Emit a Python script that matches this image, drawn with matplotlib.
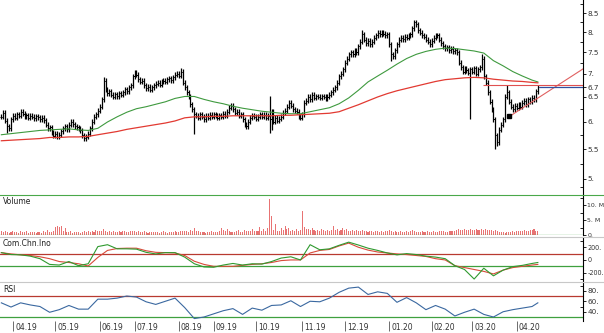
import numpy as np
import matplotlib.pyplot as plt
from matplotlib.lines import Line2D
from matplotlib.ticker import FixedLocator, FixedFormatter, NullFormatter

# daily closes (bars), Mar 2019 - Apr 2020
close = [
    6.10, 6.18, 6.02, 5.92, 5.88, 6.05, 6.12, 6.08, 6.15, 6.12,
    6.20, 6.16, 6.10, 6.13, 6.08, 6.12, 6.10, 6.07, 6.11, 6.09, 6.05, 6.08, 6.03,
    5.95, 5.88, 5.90,
    5.80, 5.74, 5.78, 5.72, 5.76, 5.82,
    5.88, 5.92, 5.86, 5.95, 6.00,
    5.96, 5.92, 5.90, 5.87, 5.84,
    5.75, 5.70, 5.72, 5.78,
    5.88, 6.00, 6.10, 6.15,
    6.22, 6.30, 6.45, 6.85,
    6.65, 6.58, 6.62, 6.55,
    6.50, 6.56, 6.52, 6.58, 6.55,
    6.60, 6.66, 6.62, 6.70, 6.75,
    6.95, 7.02, 6.98, 6.88, 6.82, 6.85,
    6.75, 6.68, 6.72, 6.65, 6.70, 6.75,
    6.78, 6.80, 6.76, 6.82,
    6.85, 6.82, 6.88, 6.90, 6.86, 6.92,
    6.98, 7.00, 6.96, 7.05,
    6.80, 6.70, 6.60, 6.50, 6.35, 6.25, 6.15, 6.12,
    6.08, 6.15, 6.10, 6.05, 6.12, 6.08, 6.14,
    6.10, 6.15, 6.12, 6.08, 6.13, 6.10, 6.16, 6.12, 6.20,
    6.28, 6.32, 6.25,
    6.18, 6.20, 6.12, 6.15, 6.05, 5.95, 5.92, 6.00,
    6.08, 6.12, 6.10, 6.06, 6.10,
    6.15, 6.10, 6.14, 6.08, 6.12, 6.05, 6.20,
    6.00, 6.08, 6.02, 6.06, 6.10,
    6.18, 6.22, 6.30, 6.38, 6.32,
    6.25, 6.22, 6.20, 6.10, 6.08, 6.15,
    6.38, 6.42, 6.50, 6.45, 6.55, 6.48, 6.52, 6.50,
    6.48, 6.52, 6.50, 6.46, 6.50, 6.55,
    6.60, 6.65, 6.70, 6.80, 6.95, 7.00, 7.10,
    7.25, 7.35, 7.45, 7.50, 7.45, 7.55, 7.50,
    7.65, 7.75, 7.95, 7.80, 7.72, 7.78, 7.70, 7.75,
    7.85, 7.92, 7.98, 7.95, 8.00, 7.96, 7.92, 7.95,
    7.70, 7.45, 7.40, 7.55, 7.70,
    7.80, 7.85, 7.82, 7.88, 7.85, 7.90, 7.95,
    8.10, 8.25, 8.20, 8.05,
    7.98, 7.92, 7.88, 7.80, 7.75, 7.70, 7.78,
    7.85, 7.90, 7.92, 7.80, 7.72, 7.65, 7.60, 7.62,
    7.55, 7.58, 7.52, 7.55, 7.50, 7.25, 7.15,
    7.05, 7.12, 7.08, 7.02, 7.10, 7.05, 7.12, 7.00, 7.10, 7.15,
    7.35, 6.95, 6.80, 6.60, 6.40, 6.25, 6.05,
    5.75, 5.62, 5.85, 5.95, 6.05,
    6.50, 6.60, 6.40, 6.30,
    6.25, 6.32, 6.28, 6.35, 6.30,
    6.38, 6.42, 6.35, 6.45, 6.40, 6.48, 6.45, 6.62, 6.70,
]
# long wicks
high_spikes = {53: 6.92, 69: 7.08, 93: 7.12, 139: 6.52, 187: 8.05, 214: 8.32, 249: 7.45, 262: 6.75}
low_spikes = {3: 5.80, 100: 5.77, 139: 5.80, 140: 5.85, 202: 7.30, 243: 6.05, 256: 5.50, 257: 5.55}

# volume in millions
volume = [
    1.2, 0.9, 1.5, 1.1, 0.8, 1.0, 1.3, 0.9, 1.1, 0.8,
    1.4, 1.0, 0.9, 1.2, 0.8, 1.0, 0.9, 1.1, 0.7, 0.9,
    1.0, 0.8, 1.2, 1.1, 1.6, 0.9, 1.0, 1.3, 2.8, 3.1,
    2.6, 3.0, 1.2, 2.5, 1.1, 0.9, 1.2, 0.8, 1.0, 0.9,
    1.1, 0.8, 1.0, 1.3, 0.9, 1.2, 1.0, 1.4, 1.1, 1.6,
    1.2, 1.5, 1.3, 2.0, 1.4, 1.1, 1.3, 1.0, 1.2, 0.9,
    1.1, 1.3, 1.0, 1.4, 1.2, 0.9, 1.1, 1.3, 1.5, 1.2,
    1.0, 1.4, 1.1, 0.9, 1.2, 1.0, 0.8, 1.1, 0.9, 1.0,
    0.9, 1.1, 0.8, 1.0, 1.2, 0.9, 0.8, 1.1, 1.0, 0.9,
    1.2, 1.0, 1.1, 1.5, 1.3, 1.4, 1.2, 1.1, 1.6, 1.3,
    2.2, 1.5, 1.2, 1.0, 0.9, 1.1, 0.8, 1.0, 0.9, 1.2,
    1.0, 0.9, 1.1, 1.4, 2.4, 1.8, 1.2, 2.0, 1.3, 1.1,
    1.0, 0.9, 1.2, 1.6, 1.0, 1.1, 1.8, 1.3, 1.2, 1.4,
    2.1, 1.2, 1.5, 1.3, 2.6, 1.4, 1.9, 1.2, 2.3, 12.0,
    6.3, 1.8, 3.7, 1.5, 1.2, 2.2, 1.6, 3.0, 1.9, 2.4,
    1.5, 1.7, 1.3, 2.1, 1.4, 1.8, 8.0, 2.6, 1.9, 2.1,
    1.6, 2.4, 1.8, 1.5, 1.7, 1.4, 1.9, 1.6, 1.5, 1.8,
    1.4, 1.6, 3.0, 1.8, 2.0, 1.5, 1.7, 2.2, 1.6, 1.9,
    1.5, 1.4, 1.6, 1.3, 1.8, 1.5, 1.2, 1.7, 1.4, 1.3,
    1.1, 1.5, 1.3, 1.0, 1.2, 1.4, 1.1, 1.3, 0.9, 1.2,
    1.4, 1.6, 1.2, 1.0, 1.3, 1.1, 0.9, 1.2, 1.0, 1.1,
    1.3, 1.0, 1.5, 1.8, 1.2, 1.0, 1.1, 0.9, 1.2, 1.0,
    1.1, 1.3, 1.0, 0.9, 1.2, 1.1, 1.0, 1.3, 1.2, 1.4,
    1.1, 1.0, 1.3, 1.2, 1.5, 1.4, 1.7, 1.9, 1.8, 1.6,
    1.9, 1.7, 1.8, 2.0, 1.6, 1.8, 1.9, 1.7, 1.8, 2.0,
    1.7, 1.9, 1.8, 1.6, 1.7, 1.5, 1.8, 1.2, 1.0, 0.9,
    1.1, 0.8, 1.0, 0.9, 1.1, 1.2, 1.0, 1.3, 1.5, 1.4,
    1.2, 1.6, 1.3, 1.5, 1.8, 1.6, 1.9, 1.5, 1.3,
]

# indicator lines, one value every 5 bars (last = last bar)
ma_green = [5.76, 5.78, 5.80, 5.82, 5.84, 5.85, 5.86, 5.87, 5.85, 5.84,
            5.88, 6.00, 6.10, 6.19, 6.26, 6.30, 6.35, 6.40, 6.47, 6.51,
            6.51, 6.45, 6.40, 6.36, 6.31, 6.27, 6.24, 6.21, 6.19, 6.17,
            6.16, 6.16, 6.20, 6.24, 6.28, 6.36, 6.48, 6.64, 6.82, 6.95,
            7.08, 7.22, 7.35, 7.45, 7.52, 7.57, 7.60, 7.59, 7.56, 7.53,
            7.48, 7.30, 7.18, 7.05, 6.95, 6.86, 6.82]
ma_red = [5.65, 5.66, 5.67, 5.68, 5.69, 5.71, 5.71, 5.72, 5.72, 5.73,
          5.76, 5.79, 5.82, 5.86, 5.89, 5.92, 5.95, 5.98, 6.02, 6.08,
          6.10, 6.10, 6.11, 6.11, 6.12, 6.12, 6.12, 6.12, 6.12, 6.13,
          6.13, 6.14, 6.15, 6.16, 6.17, 6.20, 6.27, 6.34, 6.42, 6.50,
          6.57, 6.63, 6.68, 6.73, 6.78, 6.83, 6.87, 6.89, 6.91, 6.92,
          6.91, 6.88, 6.86, 6.84, 6.83, 6.81, 6.80]
cci_fast = [115, 85, 80, 60, 20, -70, -80, -25, -90, -60,
            210, 240, 175, 175, 170, 120, 95, 115, 115, 45,
            -60, -110, -115, -80, -55, -80, -60, -65, -25, 30,
            50, 0, 240, 160, 175, 230, 280, 235, 185, 150,
            110, 80, 100, 85, 60, 45, 20, -90, -150, -300,
            -130, -250, -160, -105, -85, -55, -40]
cci_slow = [115, 95, 80, 70, 50, 20, -25, -40, -60, -95,
            40, 150, 180, 185, 185, 145, 120, 115, 110, 70,
            -20, -70, -100, -100, -100, -85, -70, -60, -40, -10,
            0, 0, 110, 150, 165, 220, 265, 200, 155, 125,
            110, 95, 85, 70, 55, 20, 0, -90, -120, -150,
            -180, -220, -160, -120, -100, -80, -70]
rsi = [57, 49, 57, 53, 50, 39, 44, 52, 45, 45,
       64, 64, 66, 70, 68, 59, 54, 60, 66, 48,
       27, 30, 36, 42, 46, 35, 47, 43, 52, 53,
       61, 50, 60, 59, 66, 77, 85, 87, 73, 78,
       75, 58, 67, 57, 44, 52, 45, 32, 39, 45,
       35, 30, 40, 44, 47, 50, 57]

# month starts (bar number) and labels of the time axis
month_bars = [6, 28, 51, 69, 92, 110, 132, 156, 178, 201, 223, 244, 267]
month_labels = ['04.19', '05.19', '06.19', '07.19', '08.19', '09.19', '10.19',
                '11.19', '12.19', '01.20', '02.20', '03.20', '04.20']

# drawings on the price panel
support_line = [(263, 6.10), (301.4, 7.11)]
resist_level = (249.5, 6.75)
last_price = (278.5, 6.70)
marker_pt = (263, 6.12)

W, H = 604, 333
fig = plt.figure(figsize=(W / 100, H / 100), dpi=100)
fig.patch.set_facecolor('white')
plt.rcParams['font.family'] = 'DejaVu Sans'
fs = 5.5
tcol = '#333333'
xr = 583 / W


def panel(top, bottom, lsize=5.2):
    a = fig.add_axes([0, 1 - bottom / H, xr, (bottom - top) / H])
    for s in ['left', 'top', 'bottom']:
        a.spines[s].set_visible(False)
    a.spines['right'].set_linewidth(0.8)
    a.yaxis.tick_right()
    a.tick_params(axis='y', which='major', direction='out', length=2.5, width=0.6,
                  labelsize=lsize, labelcolor=tcol, pad=0.6)
    a.tick_params(axis='y', which='minor', direction='in', length=2, width=0.6)
    a.tick_params(axis='x', which='both', bottom=False, labelbottom=False)
    a.set_xlim(-0.7, 301.4)
    return a


def sampled_x(vals):
    xs = np.arange(len(vals)) * 5
    xs[-1] = len(close) - 1
    return xs


n = len(close)
x = np.arange(n)
c = np.array(close)
o = np.r_[c[0], c[:-1]]
hi = np.maximum(o, c) * 1.008
lo = np.minimum(o, c) * 0.992
for k, v in high_spikes.items():
    hi[k] = v
for k, v in low_spikes.items():
    lo[k] = v

# price panel
ax = panel(0, 195)
ax.set_yscale('log')
ax.set_ylim(4.75, 8.864)
ax.vlines(x, lo, hi, color='black', lw=0.9)
ax.hlines(o, x - 0.55, x, color='black', lw=0.7)
ax.hlines(c, x, x + 0.55, color='black', lw=0.7)
ax.plot(sampled_x(ma_green), ma_green, color='#3f9a3f', lw=0.8)
ax.plot(sampled_x(ma_red), ma_red, color='#e23a32', lw=0.9)
ax.plot([support_line[0][0], support_line[1][0]], [support_line[0][1], support_line[1][1]],
        color='#e06060', lw=0.8)
ax.hlines(resist_level[1], resist_level[0], 301.4, color='#e05050', lw=0.8)
ax.hlines(last_price[1], last_price[0], 301.4, color='#3050a0', lw=0.9)
ax.plot([marker_pt[0]], [marker_pt[1]], 's', color='black', ms=3)
pticks = [5, 5.5, 6, 6.5, 6.7, 7, 7.5, 8, 8.5]
ax.yaxis.set_major_locator(FixedLocator(pticks))
ax.yaxis.set_major_formatter(FixedFormatter(['5.', '5.5', '6.', '6.5', '6.7', '7.', '7.5', '8.', '8.5']))
ax.yaxis.set_minor_locator(FixedLocator([4.875, 5.25, 5.75, 6.25, 6.75, 7.25, 7.75, 8.25, 8.75]))
ax.yaxis.set_minor_formatter(NullFormatter())

# volume panel
axv = panel(196, 235, lsize=4.5)
axv.bar(x, volume, width=0.55, color='#e87373', linewidth=0)
axv.set_ylim(0, 13)
axv.axhline(0.05, color='#3fa03f', lw=0.9)
axv.yaxis.set_major_locator(FixedLocator([0, 5, 10]))
axv.yaxis.set_major_formatter(FixedFormatter(['0.', '5. M', '10. M']))
axv.yaxis.set_minor_locator(FixedLocator([2.5, 7.5, 12.5]))

# CCI panel
axc = panel(237, 281, lsize=4.7)
axc.set_ylim(-331, 361)
axc.axhline(100, color='#b83a30', lw=0.9)
axc.axhline(-100, color='#3fa03f', lw=0.9)
axc.plot(sampled_x(cci_slow), cci_slow, color='#d84a3a', lw=0.8)
axc.plot(sampled_x(cci_fast), cci_fast, color='#2f9a2f', lw=0.8)
axc.yaxis.set_major_locator(FixedLocator([-200, 0, 200]))
axc.yaxis.set_major_formatter(FixedFormatter(['-200.', '0', '200.']))
axc.yaxis.set_minor_locator(FixedLocator([-300, -100, 100, 300]))

# RSI panel
axr = panel(283, 321)
axr.set_ylim(22.4, 94.8)
axr.axhline(70, color='#b83a30', lw=0.9)
axr.axhline(30, color='#3fa03f', lw=0.9)
axr.plot(sampled_x(rsi), rsi, color='#3a68a0', lw=0.8)
axr.yaxis.set_major_locator(FixedLocator([40, 60, 80]))
axr.yaxis.set_major_formatter(FixedFormatter(['40.', '60.', '80.']))
axr.yaxis.set_minor_locator(FixedLocator([30, 50, 70, 90]))

# time axis: tick line with the label to its right
axr.set_xticks(month_bars)
axr.tick_params(axis='x', which='major', bottom=True, direction='out', length=7,
                width=0.6, color='#555555', labelbottom=False)
for b, lab in zip(month_bars, month_labels):
    axr.annotate(lab, xy=(b, 0), xycoords=('data', 'axes fraction'), xytext=(1.5, -5),
                 textcoords='offset points', ha='left', va='center', fontsize=fs, color=tcol)

# panel separators and titles
for yy, col in [(195, '#4aa84a'), (236.5, '#c8c8c8'), (282, '#c8c8c8')]:
    fig.add_artist(Line2D([0, 1], [1 - yy / H, 1 - yy / H], color=col, lw=0.8))
for yy, txt in [(201, 'Volume'), (244, 'Com.Chn.Ino'), (290, 'RSI')]:
    fig.text(3 / W, 1 - yy / H, txt, fontsize=fs, color='#222222', va='center', ha='left')

fig.savefig('out.png', dpi=100)
